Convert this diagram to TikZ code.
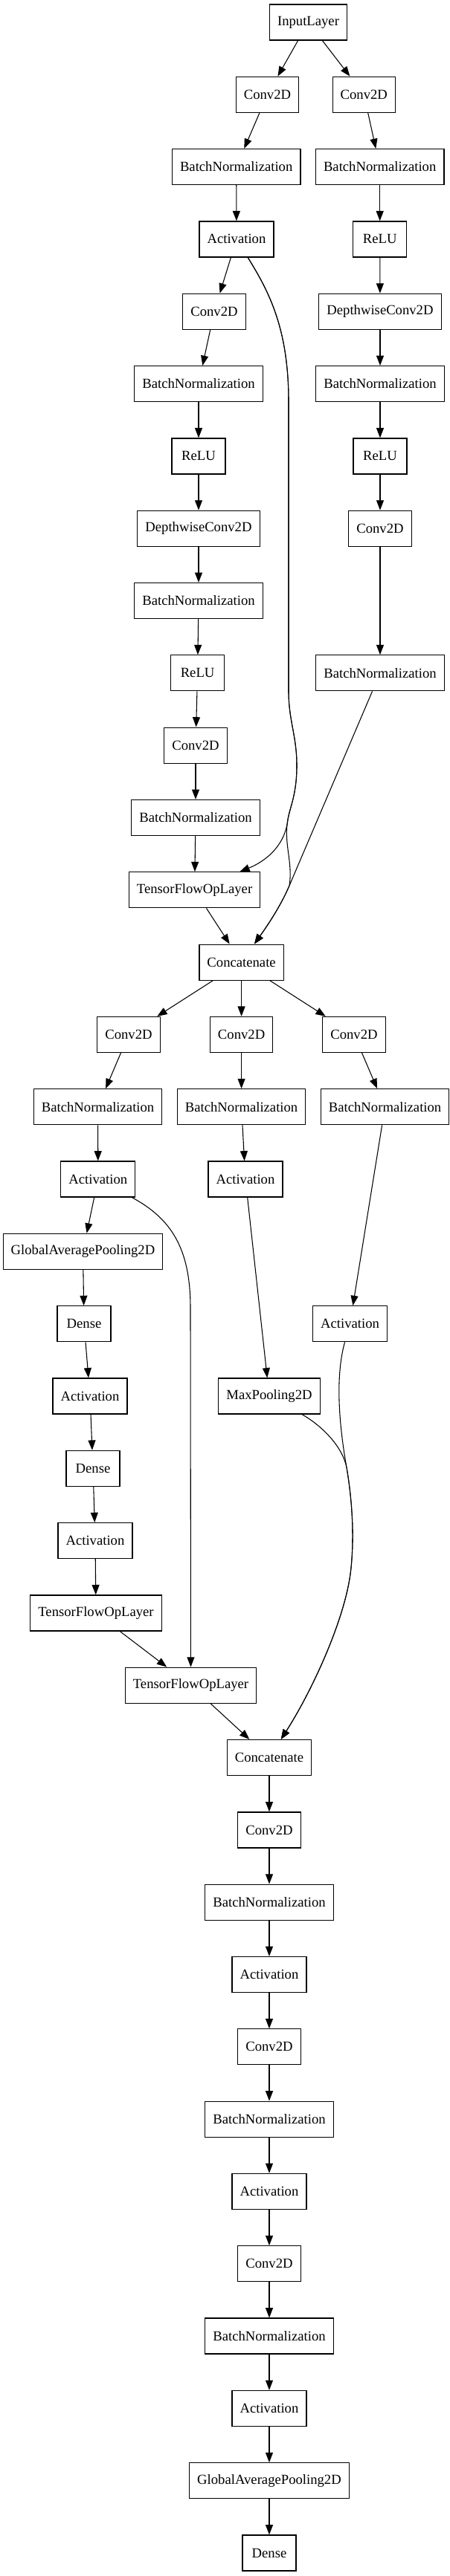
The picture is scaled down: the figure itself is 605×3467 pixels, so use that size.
\documentclass[tikz,border=0pt]{standalone}
\usepackage{fontspec}
\setmainfont{Liberation Serif}
\usetikzlibrary{arrows.meta}

\begin{document}
\begin{tikzpicture}[x=0.75pt, y=-0.75pt, >={Triangle[length=10pt,width=7.5pt]},
	layer/.style={draw, line width=0.9pt, rectangle, minimum width=54pt, minimum height=36pt, inner xsep=7.92pt, inner ysep=3.96pt, font=\fontsize{14}{16}\selectfont},
	link/.style={->, line width=0.8pt}]
	\path[use as bounding box, fill=white] (0,0) rectangle (605,3467);
	\node[layer] (inp) at (414.5,30) {InputLayer};
	\node[layer] (convA) at (359.5,127.3) {Conv2D};
	\node[layer] (convB) at (489.3,127.3) {Conv2D};
	\node[layer] (bnA) at (317.7,224.6) {BatchNormalization};
	\node[layer] (bnB) at (510.7,224.6) {BatchNormalization};
	\node[layer] (actA) at (318,321.9) {Activation};
	\node[layer] (reluB) at (510.7,321.9) {ReLU};
	\node[layer] (convA2) at (288,419.3) {Conv2D};
	\node[layer] (dwB) at (511,419.3) {DepthwiseConv2D};
	\node[layer] (bnA2) at (267,516.6) {BatchNormalization};
	\node[layer] (bnB2) at (511,516.6) {BatchNormalization};
	\node[layer] (reluA) at (267,613.9) {ReLU};
	\node[layer] (reluB2) at (511,613.9) {ReLU};
	\node[layer] (dwA) at (267,711.2) {DepthwiseConv2D};
	\node[layer] (convB2) at (511,711.2) {Conv2D};
	\node[layer] (bnA3) at (267,808.5) {BatchNormalization};
	\node[layer] (reluA2) at (265.6,905.8) {ReLU};
	\node[layer] (bnB3) at (511,905.8) {BatchNormalization};
	\node[layer] (convA3) at (263,1003.1) {Conv2D};
	\node[layer] (bnA4) at (263,1100.5) {BatchNormalization};
	\node[layer] (tfA) at (261.6,1197.8) {TensorFlowOpLayer};
	\node[layer] (catA) at (324.6,1295.1) {Concatenate};
	\node[layer] (convC) at (173,1392.4) {Conv2D};
	\node[layer] (convD) at (324.6,1392.4) {Conv2D};
	\node[layer] (convE) at (476,1392.4) {Conv2D};
	\node[layer] (bnC) at (131.6,1489.7) {BatchNormalization};
	\node[layer] (bnD) at (324.6,1489.7) {BatchNormalization};
	\node[layer] (bnE) at (517.6,1489.7) {BatchNormalization};
	\node[layer] (actC) at (131.8,1587) {Activation};
	\node[layer] (actD) at (330,1587) {Activation};
	\node[layer] (gapC) at (111.5,1684.3) {GlobalAveragePooling2D};
	\node[layer] (denseC) at (113,1781.7) {Dense};
	\node[layer] (actE) at (470.5,1781.7) {Activation};
	\node[layer] (actC2) at (121,1879) {Activation};
	\node[layer] (poolD) at (362,1879) {MaxPooling2D};
	\node[layer] (denseC2) at (125,1976.3) {Dense};
	\node[layer] (actC3) at (128,2073.6) {Activation};
	\node[layer] (tfC) at (129,2170.9) {TensorFlowOpLayer};
	\node[layer] (tfC2) at (256.5,2268.2) {TensorFlowOpLayer};
	\node[layer] (catB) at (362,2365.5) {Concatenate};
	\node[layer] (convF) at (362,2462.9) {Conv2D};
	\node[layer] (bnF) at (362,2560.2) {BatchNormalization};
	\node[layer] (actF) at (362,2657.5) {Activation};
	\node[layer] (convG) at (362,2754.8) {Conv2D};
	\node[layer] (bnG) at (362,2852.1) {BatchNormalization};
	\node[layer] (actG) at (362,2949.4) {Activation};
	\node[layer] (convH) at (362,3046.7) {Conv2D};
	\node[layer] (bnH) at (362,3144.0) {BatchNormalization};
	\node[layer] (actH) at (362,3241.4) {Activation};
	\node[layer] (gapH) at (362,3338.7) {GlobalAveragePooling2D};
	\node[layer] (denseH) at (362,3436.0) {Dense};
	\coordinate (skipTop) at (388,540);
	\coordinate (skipLow) at (388,930);
	\coordinate (skipBulge) at (399,1030);
	\coordinate (skipSplit) at (387,1103);
	\coordinate (joinA) at (389,1192);
	\coordinate (skipC) at (256,1760);
	\coordinate (joinB) at (466,1975);
	\coordinate (bendB) at (472,2110);
	\draw[link] (inp) -- (convA);
	\draw[link] (inp) -- (convB);
	\draw[link] (convA) -- (bnA);
	\draw[link] (bnA) -- (actA);
	\draw[link] (actA) -- (convA2);
	\draw[link] (convA2) -- (bnA2);
	\draw[link] (bnA2) -- (reluA);
	\draw[link] (reluA) -- (dwA);
	\draw[link] (dwA) -- (bnA3);
	\draw[link] (bnA3) -- (reluA2);
	\draw[link] (reluA2) -- (convA3);
	\draw[link] (convA3) -- (bnA4);
	\draw[link] (bnA4) -- (tfA);
	\draw[link] (tfA) -- (catA);
	\draw[link] (convB) -- (bnB);
	\draw[link] (bnB) -- (reluB);
	\draw[link] (reluB) -- (dwB);
	\draw[link] (dwB) -- (bnB2);
	\draw[link] (bnB2) -- (reluB2);
	\draw[link] (reluB2) -- (convB2);
	\draw[link] (convB2) -- (bnB3);
	\draw[link] (bnB3) -- (joinA) .. controls (377,1220) and (360,1245) .. (catA);
	\draw[link] (actA) .. controls (360,390) and (388,440) .. (skipTop) -- (skipLow) .. controls (388,970) and (399,990) .. (skipBulge) .. controls (399,1070) and (390,1085) .. (skipSplit) .. controls (383,1140) and (355,1160) .. (tfA);
	\draw[link] (actA) .. controls (360,390) and (388,440) .. (skipTop) -- (skipLow) .. controls (388,970) and (399,990) .. (skipBulge) .. controls (399,1070) and (390,1085) .. (skipSplit) .. controls (381,1135) and (394,1160) .. (joinA) .. controls (377,1220) and (360,1245) .. (catA);
	\draw[link] (catA) -- (convC);
	\draw[link] (catA) -- (convD);
	\draw[link] (catA) -- (convE);
	\draw[link] (convC) -- (bnC);
	\draw[link] (bnC) -- (actC);
	\draw[link] (actC) -- (gapC);
	\draw[link] (gapC) -- (denseC);
	\draw[link] (denseC) -- (actC2);
	\draw[link] (actC2) -- (denseC2);
	\draw[link] (denseC2) -- (actC3);
	\draw[link] (actC3) -- (tfC);
	\draw[link] (tfC) -- (tfC2);
	\draw[link] (actC) .. controls (230,1640) and (256,1680) .. (skipC) -- (tfC2);
	\draw[link] (tfC2) -- (catB);
	\draw[link] (convD) -- (bnD);
	\draw[link] (bnD) -- (actD);
	\draw[link] (actD) -- (poolD);
	\draw[link] (poolD) .. controls (430,1917) and (460,1945) .. (joinB) .. controls (472,2010) and (477,2060) .. (bendB) .. controls (466,2175) and (420,2275) .. (catB);
	\draw[link] (convE) -- (bnE);
	\draw[link] (bnE) -- (actE);
	\draw[link] (actE) .. controls (449,1858) and (458,1930) .. (joinB) .. controls (472,2010) and (477,2060) .. (bendB) .. controls (466,2175) and (420,2275) .. (catB);
	\draw[link] (catB) -- (convF);
	\draw[link] (convF) -- (bnF);
	\draw[link] (bnF) -- (actF);
	\draw[link] (actF) -- (convG);
	\draw[link] (convG) -- (bnG);
	\draw[link] (bnG) -- (actG);
	\draw[link] (actG) -- (convH);
	\draw[link] (convH) -- (bnH);
	\draw[link] (bnH) -- (actH);
	\draw[link] (actH) -- (gapH);
	\draw[link] (gapH) -- (denseH);
\end{tikzpicture}
\end{document}
